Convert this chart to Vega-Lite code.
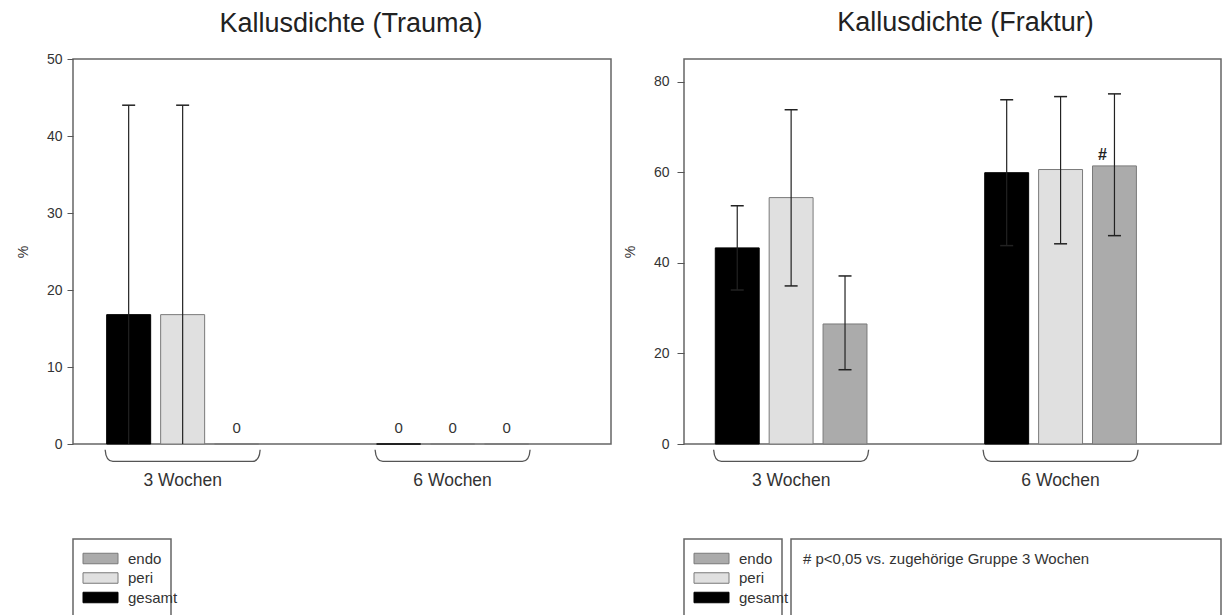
{
  "$schema": "https://vega.github.io/schema/vega-lite/v6.json",
  "padding": {"left": 15, "top": 8, "right": 0, "bottom": 0},
  "spacing": 10,
  "config": {
    "font": "Liberation Sans",
    "view": {"stroke": "#666", "strokeWidth": 1.5},
    "axis": {
      "labelColor": "#333",
      "titleColor": "#333",
      "tickColor": "#555",
      "domain": false,
      "grid": false,
      "labelFont": "Liberation Sans",
      "titleFont": "Liberation Sans",
      "titleFontWeight": "normal"
    },
    "title": {"fontSize": 27, "fontWeight": "normal", "color": "#222", "anchor": "middle", "frame": "group"}
  },
  "datasets": {
    "trauma": [
      {"week": "3 Wochen", "series": "gesamt", "mean": 16.8, "lo": 0, "hi": 44.0},
      {"week": "3 Wochen", "series": "peri", "mean": 16.8, "lo": 0, "hi": 44.0},
      {"week": "3 Wochen", "series": "endo", "mean": 0},
      {"week": "6 Wochen", "series": "gesamt", "mean": 0},
      {"week": "6 Wochen", "series": "peri", "mean": 0},
      {"week": "6 Wochen", "series": "endo", "mean": 0}
    ],
    "fraktur": [
      {"week": "3 Wochen", "series": "gesamt", "mean": 43.3, "lo": 34.0, "hi": 52.6},
      {"week": "3 Wochen", "series": "peri", "mean": 54.4, "lo": 34.9, "hi": 73.8},
      {"week": "3 Wochen", "series": "endo", "mean": 26.5, "lo": 16.4, "hi": 37.1},
      {"week": "6 Wochen", "series": "gesamt", "mean": 59.9, "lo": 43.8, "hi": 76.0},
      {"week": "6 Wochen", "series": "peri", "mean": 60.6, "lo": 44.2, "hi": 76.7},
      {"week": "6 Wochen", "series": "endo", "mean": 61.4, "lo": 46.0, "hi": 77.3, "sig": "#"}
    ],
    "weeks": [
      {"week": "3 Wochen"},
      {"week": "6 Wochen"}
    ],
    "series": [
      {"series": "endo"},
      {"series": "peri"},
      {"series": "gesamt"}
    ],
    "note": [
      {"note": "# p<0,05 vs. zugehörige Gruppe 3 Wochen"}
    ]
  },
  "hconcat": [
    {
      "vconcat": [
        {
          "width": 538,
          "height": 385,
          "title": {"text": "Kallusdichte (Trauma)", "dx": 9, "offset": 14},
          "encoding": {
            "x": {
              "field": "week", "type": "nominal", "sort": ["3 Wochen", "6 Wochen"],
              "scale": {"paddingInner": 0.437, "paddingOuter": 0.215, "align": 0.29},
              "axis": {"title": null, "labelAngle": 0, "ticks": false, "labelPadding": 27, "labelFontSize": 17.5}
            }
          },
          "layer": [
            {
              "data": {"name": "trauma"},
              "mark": {"type": "bar", "strokeWidth": 1},
              "encoding": {
                "xOffset": {"field": "series", "type": "nominal", "sort": ["gesamt", "peri", "endo"], "scale": {"paddingInner": 0.185, "paddingOuter": 0}},
                "y": {
                  "field": "mean", "type": "quantitative",
                  "scale": {"domain": [0, 50], "nice": false},
                  "axis": {"title": "%", "values": [0, 10, 20, 30, 40, 50], "tickSize": 6, "labelPadding": 5, "labelFontSize": 14, "titleFontSize": 14, "titlePadding": 16}
                },
                "color": {"field": "series", "type": "nominal", "scale": {"domain": ["endo", "peri", "gesamt"], "range": ["#ababab", "#e0e0e0", "#000000"]}, "legend": null},
                "stroke": {"field": "series", "type": "nominal", "scale": {"domain": ["endo", "peri", "gesamt"], "range": ["#7a7a7a", "#7a7a7a", "#000000"]}, "legend": null}
              }
            },
            {
              "data": {"name": "trauma"},
              "transform": [{"filter": "isValid(datum.hi)"}],
              "mark": {"type": "rule", "color": "#222", "strokeWidth": 1.2},
              "encoding": {
                "xOffset": {"field": "series", "type": "nominal", "sort": ["gesamt", "peri", "endo"]},
                "y": {"field": "lo", "type": "quantitative"},
                "y2": {"field": "hi"}
              }
            },
            {
              "data": {"name": "trauma"},
              "transform": [{"filter": "isValid(datum.hi)"}],
              "mark": {"type": "tick", "orient": "horizontal", "size": 13, "thickness": 1.5, "color": "#222", "opacity": 1},
              "encoding": {
                "xOffset": {"field": "series", "type": "nominal", "sort": ["gesamt", "peri", "endo"]},
                "y": {"field": "hi", "type": "quantitative"}
              }
            },
            {
              "data": {"name": "trauma"},
              "transform": [{"filter": "datum.mean == 0"}],
              "mark": {"type": "text", "fontSize": 15, "color": "#333", "baseline": "middle", "dy": -16},
              "encoding": {
                "xOffset": {"field": "series", "type": "nominal", "sort": ["gesamt", "peri", "endo"]},
                "y": {"field": "mean", "type": "quantitative"},
                "text": {"field": "mean", "type": "quantitative", "format": "d"}
              }
            },
            {
              "data": {"name": "weeks"},
              "mark": {
                "type": "point",
                "shape": "M-1,-0.08 Q-0.99,0.07 -0.9,0.07 L0.9,0.07 Q0.99,0.07 1,-0.08",
                "size": 24025,
                "filled": false,
                "color": "#555",
                "strokeWidth": 1.3,
                "opacity": 1,
                "yOffset": 12
              },
              "encoding": {
                "y": {"datum": 0}
              }
            }
          ]
        },
        {
          "width": 98,
          "height": 78,
          "data": {"name": "series"},
          "encoding": {
            "y": {"field": "series", "type": "nominal", "scale": {"domain": ["endo", "peri", "gesamt"], "padding": 1.05}, "axis": null}
          },
          "layer": [
            {
              "mark": {"type": "point", "shape": "M-1,-0.3H1V0.3H-1Z", "size": 1225, "filled": true, "opacity": 1, "strokeWidth": 1, "xOffset": -21.5},
              "encoding": {
                "color": {"field": "series", "type": "nominal", "scale": {"domain": ["endo", "peri", "gesamt"], "range": ["#ababab", "#e0e0e0", "#000000"]}, "legend": null},
                "stroke": {"field": "series", "type": "nominal", "scale": {"domain": ["endo", "peri", "gesamt"], "range": ["#7a7a7a", "#7a7a7a", "#000000"]}, "legend": null}
              }
            },
            {
              "mark": {"type": "text", "align": "left", "baseline": "middle", "fontSize": 15, "color": "#333", "dx": 6},
              "encoding": {
                "text": {"field": "series", "type": "nominal"}
              }
            }
          ]
        }
      ],
      "spacing": 95,
      "bounds": "flush",
      "resolve": {"scale": {"y": "independent", "color": "independent", "stroke": "independent"}}
    },
    {
      "vconcat": [
        {
          "width": 537,
          "height": 385,
          "title": {"text": "Kallusdichte (Fraktur)", "dx": 13, "offset": 22},
          "encoding": {
            "x": {
              "field": "week", "type": "nominal", "sort": ["3 Wochen", "6 Wochen"],
              "scale": {"paddingInner": 0.437, "paddingOuter": 0.215, "align": 0.27},
              "axis": {"title": null, "labelAngle": 0, "ticks": false, "labelPadding": 27, "labelFontSize": 17.5}
            }
          },
          "layer": [
            {
              "data": {"name": "fraktur"},
              "mark": {"type": "bar", "strokeWidth": 1},
              "encoding": {
                "xOffset": {"field": "series", "type": "nominal", "sort": ["gesamt", "peri", "endo"], "scale": {"paddingInner": 0.185, "paddingOuter": 0}},
                "y": {
                  "field": "mean", "type": "quantitative",
                  "scale": {"domain": [0, 85], "nice": false},
                  "axis": {"title": "%", "values": [0, 20, 40, 60, 80], "tickSize": 7, "labelPadding": 8, "labelFontSize": 14, "titleFontSize": 14, "titlePadding": 16}
                },
                "color": {"field": "series", "type": "nominal", "scale": {"domain": ["endo", "peri", "gesamt"], "range": ["#ababab", "#e0e0e0", "#000000"]}, "legend": null},
                "stroke": {"field": "series", "type": "nominal", "scale": {"domain": ["endo", "peri", "gesamt"], "range": ["#7a7a7a", "#7a7a7a", "#000000"]}, "legend": null}
              }
            },
            {
              "data": {"name": "fraktur"},
              "mark": {"type": "rule", "color": "#222", "strokeWidth": 1.2},
              "encoding": {
                "xOffset": {"field": "series", "type": "nominal", "sort": ["gesamt", "peri", "endo"]},
                "y": {"field": "lo", "type": "quantitative"},
                "y2": {"field": "hi"}
              }
            },
            {
              "data": {"name": "fraktur"},
              "mark": {"type": "tick", "orient": "horizontal", "size": 13, "thickness": 1.5, "color": "#222", "opacity": 1},
              "encoding": {
                "xOffset": {"field": "series", "type": "nominal", "sort": ["gesamt", "peri", "endo"]},
                "y": {"field": "hi", "type": "quantitative"}
              }
            },
            {
              "data": {"name": "fraktur"},
              "mark": {"type": "tick", "orient": "horizontal", "size": 13, "thickness": 1.5, "color": "#222", "opacity": 1},
              "encoding": {
                "xOffset": {"field": "series", "type": "nominal", "sort": ["gesamt", "peri", "endo"]},
                "y": {"field": "lo", "type": "quantitative"}
              }
            },
            {
              "data": {"name": "fraktur"},
              "transform": [{"filter": "isValid(datum.sig)"}],
              "mark": {"type": "text", "fontSize": 16, "fontWeight": "bold", "color": "#222", "baseline": "middle", "dx": -12, "dy": -11},
              "encoding": {
                "xOffset": {"field": "series", "type": "nominal", "sort": ["gesamt", "peri", "endo"]},
                "y": {"field": "mean", "type": "quantitative"},
                "text": {"field": "sig", "type": "nominal"}
              }
            },
            {
              "data": {"name": "weeks"},
              "mark": {
                "type": "point",
                "shape": "M-1,-0.08 Q-0.99,0.07 -0.9,0.07 L0.9,0.07 Q0.99,0.07 1,-0.08",
                "size": 24025,
                "filled": false,
                "color": "#555",
                "strokeWidth": 1.3,
                "opacity": 1,
                "yOffset": 12
              },
              "encoding": {
                "y": {"datum": 0}
              }
            }
          ]
        },
        {
          "hconcat": [
            {
              "width": 98,
              "height": 78,
              "data": {"name": "series"},
              "encoding": {
                "y": {"field": "series", "type": "nominal", "scale": {"domain": ["endo", "peri", "gesamt"], "padding": 1.05}, "axis": null}
              },
              "layer": [
                {
                  "mark": {"type": "point", "shape": "M-1,-0.3H1V0.3H-1Z", "size": 1225, "filled": true, "opacity": 1, "strokeWidth": 1, "xOffset": -21.5},
                  "encoding": {
                    "color": {"field": "series", "type": "nominal", "scale": {"domain": ["endo", "peri", "gesamt"], "range": ["#ababab", "#e0e0e0", "#000000"]}, "legend": null},
                    "stroke": {"field": "series", "type": "nominal", "scale": {"domain": ["endo", "peri", "gesamt"], "range": ["#7a7a7a", "#7a7a7a", "#000000"]}, "legend": null}
                  }
                },
                {
                  "mark": {"type": "text", "align": "left", "baseline": "middle", "fontSize": 15, "color": "#333", "dx": 6},
                  "encoding": {
                    "text": {"field": "series", "type": "nominal"}
                  }
                }
              ]
            },
            {
              "width": 430,
              "height": 78,
              "data": {"name": "note"},
              "mark": {"type": "text", "align": "left", "baseline": "middle", "fontSize": 15, "color": "#333", "dx": -203, "dy": -19},
              "encoding": {
                "y": {"field": "note", "type": "nominal", "axis": null},
                "text": {"field": "note", "type": "nominal"}
              }
            }
          ],
          "spacing": 9,
          "bounds": "flush",
          "resolve": {"scale": {"y": "independent"}}
        }
      ],
      "spacing": 95,
      "bounds": "flush",
      "resolve": {"scale": {"x": "independent", "y": "independent", "color": "independent", "stroke": "independent"}}
    }
  ],
  "resolve": {"scale": {"x": "independent", "y": "independent", "color": "independent", "stroke": "independent", "xOffset": "independent"}}
}
